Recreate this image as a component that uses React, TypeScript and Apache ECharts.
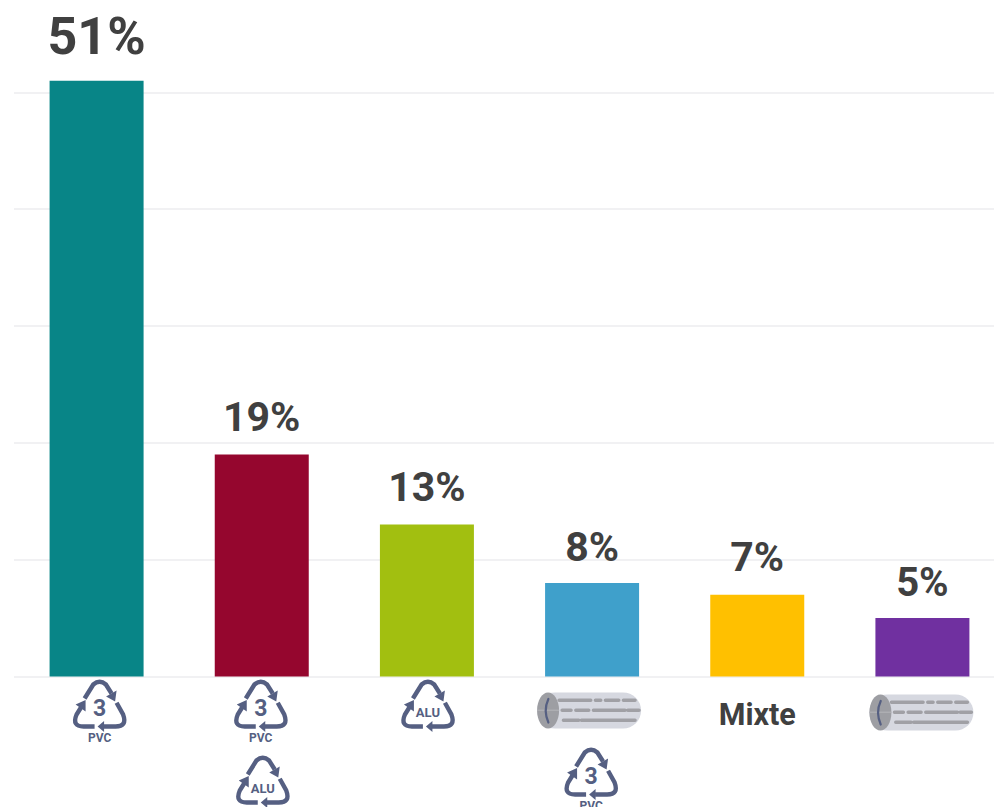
import React, { useEffect, useRef } from "react";
import * as echarts from "echarts";

const categories = ["PVC", "PVC + ALU", "ALU", "Papier + PVC", "Mixte", "Papier"];
const shares = [51, 19, 13, 8, 7, 5];
const barColors = ["#088587", "#95062e", "#a2bf10", "#3fa0cb", "#ffc000", "#7030a0"];
const labelSizes = [52, 41, 41, 41, 41, 40];
const labelGaps = [18, 17, 17, 16, 17, 16];
const iconStacks: string[][] = [["pvc"], ["pvc", "alu"], ["alu"], ["paper", "pvc"], [], ["paper"]];
// icon placement relative to each bar's foot: [dx, dy]
const iconPlaces: number[][][] = [
  [[3, 4]],
  [[-1, 4], [1, 80]],
  [[1, 4]],
  [[-3, 16], [-1, 72]],
  [],
  [[-1, 18]],
];

const ICON_BLUE = "#555f82";
const TEXT_DARK = "#404040";
const GRID_GREY = "#f1f1f3";

const ARROW_STROKES =
  "M-15 18L-6.3 4Q0 -1.5 6.3 4L12 13" +
  "M17 22.3L23.5 34Q28 46 16 46L4 46" +
  "M-5 46L-16 46Q-28 46 -23 34L-18 26";
const ARROW_HEADS =
  "M15.5 21L17 10L6.5 16Z" +
  "M-2 46L4.5 40.5L4.5 51.5Z" +
  "M-14 19.5L-24 24L-14 31Z";
const ROLL_DASHES =
  "M-30 7.7L1.7 7.7M6.3 7.7L11.7 7.7M16.3 7.7L29.7 7.7M34.3 7.7L46 7.7" +
  "M-27 17.7L-18 17.7M-13.3 17.7L-0.3 17.7M4.3 17.7L36 17.7M38.7 17.7L50 17.7" +
  "M-25.7 27.7L-10.3 27.7M-7.7 27.7L46 27.7";
const ROLL_ARC = "M-40.7 6.5Q-46 18 -40.7 30";

function recycleIcon(kind: string, x: number, y: number) {
  const base: any[] = [
    { type: "path", shape: { pathData: ARROW_STROKES }, style: { fill: "none", stroke: ICON_BLUE, lineWidth: 4.4 } },
    { type: "path", shape: { pathData: ARROW_HEADS }, style: { fill: ICON_BLUE } },
  ];
  if (kind === "pvc") {
    base.push(
      { type: "text", x: 0, y: 28, style: { text: "3", fill: ICON_BLUE, font: "bold 23px Roboto", align: "center", verticalAlign: "middle" } },
      { type: "text", x: 0, y: 57.5, style: { text: "PVC", fill: ICON_BLUE, font: "bold 12px Roboto", align: "center", verticalAlign: "middle" } },
    );
  } else {
    base.push({ type: "text", x: 0, y: 31.5, style: { text: "ALU", fill: ICON_BLUE, font: "bold 13px Roboto", align: "center", verticalAlign: "middle" } });
  }
  return { type: "group", x, y, children: base };
}

function rollIcon(x: number, y: number) {
  return {
    type: "group",
    x,
    y,
    children: [
      { type: "rect", shape: { x: -52, y: 0, width: 104, height: 36, r: 18 }, style: { fill: "#d6d8e0" } },
      { type: "ellipse", shape: { cx: -41, cy: 18, rx: 11, ry: 18 }, style: { fill: "#9d9ea3" } },
      { type: "path", shape: { pathData: "M-52 17.7L-30 17.7" }, style: { fill: "none", stroke: "#b4b5ba", lineWidth: 1 } },
      { type: "path", shape: { pathData: ROLL_ARC }, style: { fill: "none", stroke: ICON_BLUE, lineWidth: 2.2, lineCap: "round" } },
      { type: "path", shape: { pathData: ROLL_DASHES }, style: { fill: "none", stroke: "#a0a0a5", lineWidth: 3.4, lineCap: "round" } },
    ],
  };
}

function renderIcons(_params: any, api: any) {
  const i = api.value(0);
  const foot = api.coord([i, 0]);
  const children = iconStacks[i].map((kind, k) => {
    const [dx, dy] = iconPlaces[i][k];
    return kind === "paper" ? rollIcon(foot[0] + dx, foot[1] + dy) : recycleIcon(kind, foot[0] + dx, foot[1] + dy);
  });
  return { type: "group", children };
}

export default function App() {
  const ref = useRef<HTMLDivElement>(null);
  useEffect(() => {
    if (!ref.current) return;
    const chart = echarts.init(ref.current, undefined, { renderer: "svg" });
    chart.setOption({
      animation: false,
      backgroundColor: "#ffffff",
      textStyle: { fontFamily: "Roboto" },
      grid: { left: 14, top: -24.5, width: 991, height: 701, containLabel: false, outerBoundsMode: "none" },
      xAxis: {
        type: "category",
        data: categories,
        axisLine: { show: false },
        axisTick: { show: false },
        splitLine: { show: false },
        axisLabel: {
          interval: 0,
          margin: 22,
          color: TEXT_DARK,
          fontFamily: "Roboto",
          fontWeight: "bold",
          fontSize: 30.5,
          formatter: (v: string) => (v === "Mixte" ? v : ""),
        },
      },
      yAxis: {
        type: "value",
        min: 0,
        max: 60,
        interval: 10,
        axisLabel: { show: false },
        axisLine: { show: false },
        axisTick: { show: false },
        splitLine: { show: true, lineStyle: { color: GRID_GREY, width: 2 } },
      },
      series: [
        {
          type: "bar",
          barWidth: 94,
          data: shares.map((v, i) => ({
            value: v,
            itemStyle: { color: barColors[i] },
            label: { fontSize: labelSizes[i], distance: labelGaps[i] },
          })),
          label: {
            show: true,
            position: "top",
            formatter: "{c}%",
            color: TEXT_DARK,
            fontFamily: "Roboto",
            fontWeight: "bold",
          },
        },
        {
          type: "custom",
          silent: true,
          renderItem: renderIcons,
          encode: { x: 0, y: 1 },
          data: categories.map((_, i) => [i, 0]),
          z: 5,
        },
      ],
    });
    return () => chart.dispose();
  }, []);
  return (
    <div
      ref={ref}
      style={{ position: "absolute", left: 0, top: 0, width: 994, height: 807, overflow: "hidden" }}
    />
  );
}
